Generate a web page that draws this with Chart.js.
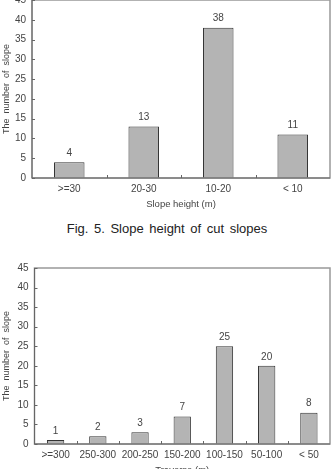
<!DOCTYPE html>
<html>
<head>
<meta charset="utf-8">
<script src="https://cdn.jsdelivr.net/npm/chart.js@4"></script>
<style>
    html, body { margin: 0; padding: 0; background: #fff; overflow: hidden; width: 334px; height: 469px; }
    .box { position: absolute; left: 0; width: 334px; }
    #top-box { top: -12px; height: 222px; }
    #bottom-box { top: 256px; height: 220px; }
    #caption {
        position: absolute; left: 0; width: 334px; top: 221px;
        text-align: center; font: 13px "Liberation Sans", Arial, sans-serif;
        color: #222; word-spacing: 2px;
    }
</style>
</head>
<body>
<div class="box" id="top-box"><canvas id="topChart"></canvas></div>
<div id="caption">Fig. 5. Slope height of cut slopes</div>
<div class="box" id="bottom-box"><canvas id="bottomChart"></canvas></div>
<script>
const heightCats = ['>=30', '20-30', '10-20', '< 10'];
const heightCounts = [4, 13, 38, 11];
const traverseCats = ['>=300', '250-300', '200-250', '150-200', '100-150', '50-100', '< 50'];
const traverseCounts = [1, 2, 3, 7, 25, 20, 8];
const yTicks = [0, 5, 10, 15, 20, 25, 30, 35, 40, 45];

const FONT = '"Liberation Sans", Arial, sans-serif';
const TEXT = '#444';

// value labels, plot frame and small inward tick marks
const decorations = {
    id: 'decorations',
    afterDatasetsDraw(chart) {
        const ctx = chart.ctx;
        const area = chart.chartArea;
        const x = chart.scales.x;
        const y = chart.scales.y;
        ctx.save();
        ctx.font = '10px ' + FONT;
        ctx.fillStyle = TEXT;
        ctx.textAlign = 'center';
        ctx.textBaseline = 'middle';
        chart.getDatasetMeta(0).data.forEach((bar, i) => {
            ctx.fillText(chart.data.datasets[0].data[i], bar.x, bar.y - 9);
        });

        ctx.strokeStyle = '#999';
        ctx.lineWidth = 1.5;
        ctx.strokeRect(area.left, area.top, area.right - area.left, area.bottom - area.top);

        ctx.strokeStyle = '#666';
        ctx.lineWidth = 1;
        ctx.beginPath();
        ctx.moveTo(area.left, area.top);
        ctx.lineTo(area.left, area.bottom);
        ctx.lineTo(area.right, area.bottom);
        yTicks.forEach(v => {
            const py = Math.round(y.getPixelForValue(v)) + 0.5;
            ctx.moveTo(area.left, py);
            ctx.lineTo(area.left + 3, py);
        });
        for (let i = 0; i < chart.data.labels.length - 1; i++) {
            const px = Math.round((x.getPixelForValue(i) + x.getPixelForValue(i + 1)) / 2) + 0.5;
            ctx.moveTo(px, area.bottom);
            ctx.lineTo(px, area.bottom - 3);
        }
        ctx.stroke();
        ctx.restore();
    }
};

function makeChart(id, cats, counts, xTitle, yWidth, padTop) {
    return new Chart(document.getElementById(id), {
        type: 'bar',
        data: {
            labels: cats,
            datasets: [{
                data: counts,
                backgroundColor: '#b4b4b4',
                borderColor: '#333',
                borderWidth: 1,
                categoryPercentage: 1,
                barPercentage: 0.41
            }]
        },
        options: {
            responsive: true,
            maintainAspectRatio: false,
            animation: false,
            layout: { padding: { top: padTop, right: 4, left: 0, bottom: 0 } },
            plugins: { legend: { display: false }, tooltip: { enabled: false } },
            scales: {
                x: {
                    grid: { display: false, drawTicks: false },
                    border: { display: false },
                    ticks: { color: TEXT, font: { family: FONT, size: 10 }, padding: 5, maxRotation: 0 },
                    title: { display: true, text: xTitle, color: TEXT, font: { family: FONT, size: 9.5 }, padding: { top: 4, bottom: 0 } },
                    afterFit(scale) { scale.height = 32; }
                },
                y: {
                    min: 0,
                    max: 45,
                    grid: { display: false, drawTicks: false },
                    border: { display: false },
                    ticks: { stepSize: 5, color: TEXT, font: { family: FONT, size: 10 }, padding: 6 },
                    title: { display: true, text: 'The  number  of  slope', color: TEXT, font: { family: FONT, size: 9 }, padding: { top: 1, bottom: 0 } },
                    afterFit(scale) { scale.width = yWidth; }
                }
            }
        },
        plugins: [decorations]
    });
}

makeChart('topChart', heightCats, heightCounts, 'Slope height (m)', 32, 10);
makeChart('bottomChart', traverseCats, traverseCounts, 'Traverse (m)', 34.5, 10);
</script>
</body>
</html>
